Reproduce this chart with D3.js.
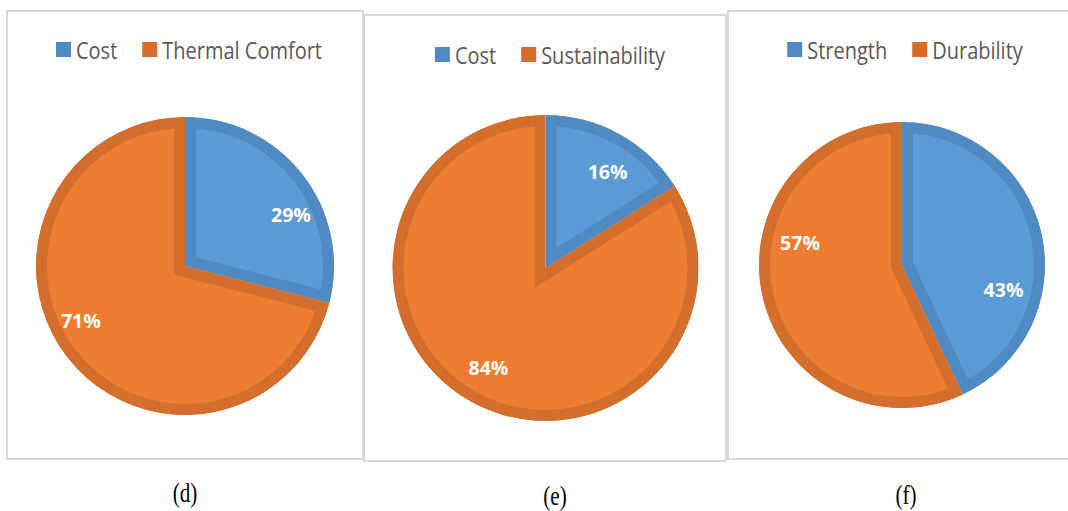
<!DOCTYPE html>
<html>
<head>
<meta charset="utf-8">
<script src="https://cdn.jsdelivr.net/npm/d3@7"></script>
<style>
  html, body { margin: 0; padding: 0; background: #ffffff; }
  svg { display: block; }
</style>
</head>
<body>
<svg id="chart" width="1068" height="511"></svg>
<script>
// Chart data: one pie per panel
const captions = ["(d)", "(e)", "(f)"];
const categoriesD = ["Cost", "Thermal Comfort"];
const valuesD = [29, 71];
const categoriesE = ["Cost", "Sustainability"];
const valuesE = [16, 84];
const categoriesF = ["Strength", "Durability"];
const valuesF = [43, 57];
const seriesColors = ["#5b9bd5", "#ed7d31"];
const bandColors = ["#4f8ac2", "#d36e2c"];

// Panel layout (frames, pie geometry, label placement)
const panels = [
  { cats: categoriesD, vals: valuesD, cap: captions[0],
    frame: [7, 11, 363, 459], cx: 185, cy: 266, r: 149,
    legendX: 189, legendY: 49.5, capX: 185, capY: 492,
    labelR: 0.79, labelShift: [12, 10] },
  { cats: categoriesE, vals: valuesE, cap: captions[1],
    frame: [364, 15, 726, 461], cx: 545.5, cy: 268, r: 153,
    legendX: 550, legendY: 54.5, capX: 555, capY: 495,
    labelR: 0.75, labelShift: [4, 1] },
  { cats: categoriesF, vals: valuesF, cap: captions[2],
    frame: [728, 11, 1072, 459], cx: 902, cy: 265, r: 143,
    legendX: 905, legendY: 49.5, capX: 906, capY: 494,
    labelR: 0.73, labelShift: [26, 25] }
];

const svg = d3.select("#chart");
const defs = svg.append("defs");
const band = 11;

const pie = d3.pie().sort(null).value(d => d);

panels.forEach((p, pi) => {
  const [x0, y0, x1, y1] = p.frame;
  svg.append("rect")
    .attr("x", x0).attr("y", y0)
    .attr("width", x1 - x0).attr("height", y1 - y0)
    .attr("fill", "none")
    .attr("stroke", "#d9d9d9")
    .attr("stroke-width", 2);

  const arc = d3.arc().innerRadius(0).outerRadius(p.r);
  const g = svg.append("g").attr("transform", `translate(${p.cx},${p.cy})`);
  const arcs = pie(p.vals);

  // each slice carries an inner band: a doubled stroke clipped to the slice itself
  arcs.forEach((a, i) => {
    const id = `slice-${pi}-${i}`;
    defs.append("clipPath").attr("id", id)
      .append("path")
      .attr("d", arc(a));
    g.append("path")
      .attr("d", arc(a))
      .attr("fill", seriesColors[i])
      .attr("stroke", bandColors[i])
      .attr("stroke-width", band * 2)
      .attr("stroke-linejoin", "miter")
      .attr("clip-path", `url(#${id})`);
  });

  // value labels
  arcs.forEach((a, i) => {
    const mid = (a.startAngle + a.endAngle) / 2 + p.labelShift[i] * Math.PI / 180;
    const rr = p.r * p.labelR;
    g.append("text")
      .attr("x", rr * Math.sin(mid))
      .attr("y", -rr * Math.cos(mid))
      .attr("text-anchor", "middle")
      .attr("dominant-baseline", "central")
      .attr("font-family", "'Open Sans', sans-serif")
      .attr("font-weight", "bold")
      .attr("font-size", 19.5)
      .attr("fill", "#ffffff")
      .text(a.data + "%");
  });

  // legend
  const lg = svg.append("g");
  let cursor = 0;
  p.cats.forEach((c, i) => {
    lg.append("rect")
      .attr("x", cursor).attr("y", p.legendY - 7.5)
      .attr("width", 15).attr("height", 15)
      .attr("fill", i === 0 ? "#4f8ac2" : "#d46c2a");
    const t = lg.append("text")
      .attr("x", cursor + 20)
      .attr("y", p.legendY)
      .attr("dominant-baseline", "central")
      .attr("font-family", "'Open Sans', sans-serif")
      .attr("font-size", 20)
      .attr("fill", "#595959")
      .attr("transform", `translate(0,${p.legendY}) scale(1,1.15) translate(0,${-p.legendY})`)
      .text(c);
    cursor += 20 + t.node().getComputedTextLength() + 25;
  });
  const w = cursor - 25;
  lg.attr("transform", `translate(${p.legendX - w / 2},0)`);

  // caption
  svg.append("text")
    .attr("transform", `translate(${p.capX},${p.capY}) scale(0.88,1.15)`)
    .attr("text-anchor", "middle")
    .attr("dominant-baseline", "central")
    .attr("font-family", "'Liberation Serif', serif")
    .attr("font-size", 24)
    .attr("fill", "#000000")
    .text(p.cap);
});
</script>
</body>
</html>
